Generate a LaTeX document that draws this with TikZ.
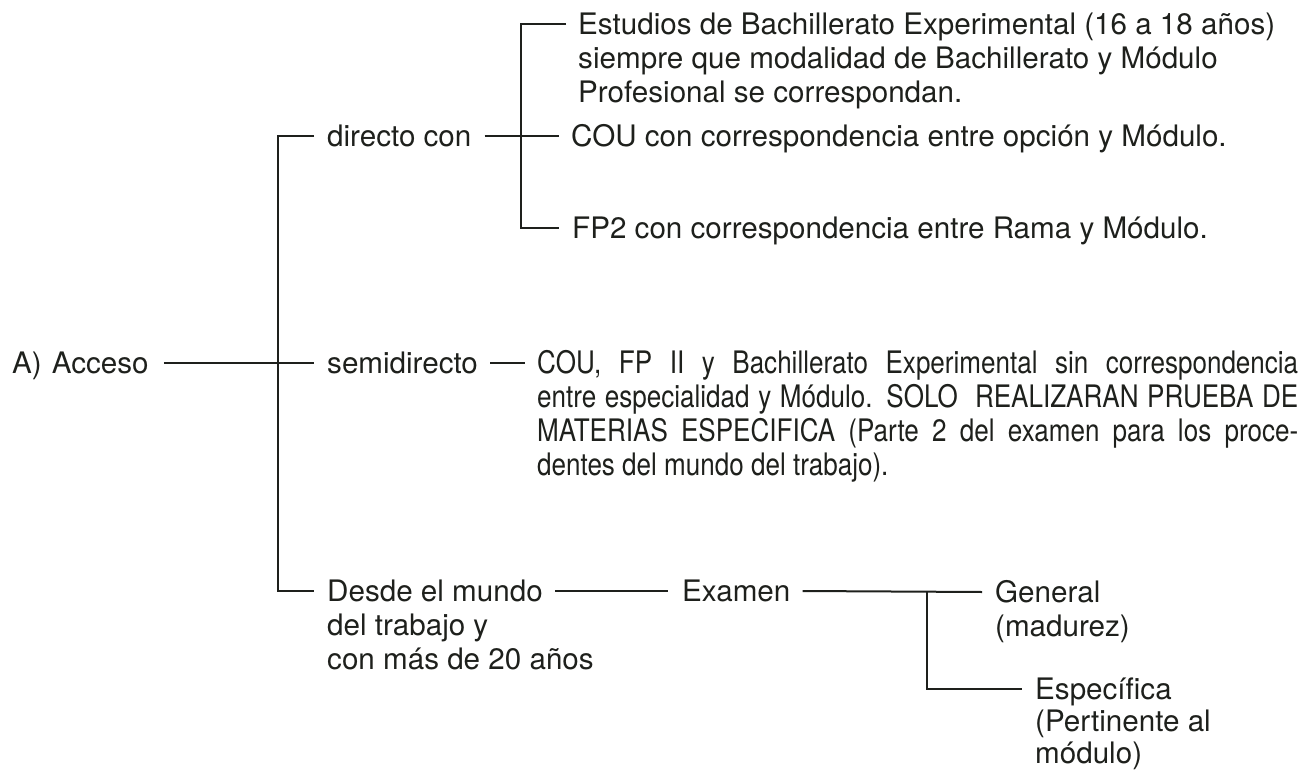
\documentclass[tikz,border=0pt]{standalone}
\usepackage{fontspec}
\setmainfont{TeX Gyre Heros}
\newfontfamily\condfont[FakeStretch=0.84]{TeX Gyre Heros}
\usetikzlibrary{calc}
\definecolor{ink}{RGB}{30,32,28}
\newcommand\fstrut{\rule{0pt}{24pt}}
\begin{document}
\begin{tikzpicture}[x=1pt,y=-1pt,
  ln/.style={draw=ink, line width=2pt},
  one/.style={anchor=west, inner sep=0pt, text height=21.2pt, text depth=0pt, text=ink, font=\fontsize{29.6}{34}\selectfont},
  multi/.style={anchor=north west, inner sep=0pt, align=left, text=ink, font=\fontsize{29.6}{34}\selectfont}]
\useasboundingbox (0,0) rectangle (1307,771);

% junctions
\coordinate (tBot) at (278,591);
\coordinate (v2bot) at (521,228);
\coordinate (v3top) at (927,592);
\coordinate (v3bot) at (927,689);
\coordinate (dEnd) at (555,591);

% nodes
\node[one] (acc) at (12,363) {A)\hspace{10pt}Acceso};
\node[one] (dir) at (327,136) {directo con};
\node[multi] (est) at (578,10.6) {\fstrut Estudios de Bachillerato Experimental (16 a 18 años)\\siempre que modalidad de Bachillerato y Módulo\\Profesional se correspondan.};
\node[one] (cou) at (571,136) {COU con correspondencia entre opción y Módulo.};
\node[one] (fp2) at (572,228) {FP2 con correspondencia entre Rama y Módulo.};
\node[one] (semi) at (327,363) {semidirecto};
\node[multi, align=justify, text width=761pt, font=\condfont\fontsize{31}{34}\selectfont] (sin) at (537,349.6)
  {\fstrut COU, FP II y Bachillerato Experimental sin correspondencia\linebreak entre especialidad y Módulo. SOLO~ REALIZARAN PRUEBA DE\linebreak MATERIAS ESPECIFICA (Parte 2 del examen para los proce-\linebreak dentes del mundo del trabajo).};
\node[multi] (desde) at (327,577.6) {\fstrut Desde el mundo\\del trabajo y\\con más de 20 años};
\node[one] (exa) at (682,591) {Examen};
\node[multi] (gen) at (995,578.6) {\fstrut General\\(madurez)};
\node[multi, font=\fontsize{29.6}{32}\selectfont] (esp) at (1035,675.6) {\fstrut Específica\\(Pertinente al\\módulo)};

% connectors
\draw[ln] ($(acc.east)+(15,0)$) -- ($(semi.west)+(-13,0)$);
\draw[ln] ($(dir.west)+(-13,0)$) -| (tBot) -- ($(desde.north west)+(-13,13.4)$);
\draw[ln] ($(dir.east)+(13,0)$) -- ($(cou.west)+(-12,0)$);
\draw[ln] ($(est.north west)+(-12,13.4)$) -| (v2bot) -- ($(fp2.west)+(-13,0)$);
\draw[ln] ($(semi.east)+(12,0)$) -- ($(sin.north west)+(-12,13.4)$);
\draw[ln] (dEnd) -- ($(exa.west)+(-14,0)$);
\draw[ln] ($(exa.east)+(12,0)$) -- ($(gen.north west)+(-13,13.4)$);
\draw[ln] (v3top) -- (v3bot) -- ($(esp.north west)+(-13,13.4)$);
\end{tikzpicture}
\end{document}
